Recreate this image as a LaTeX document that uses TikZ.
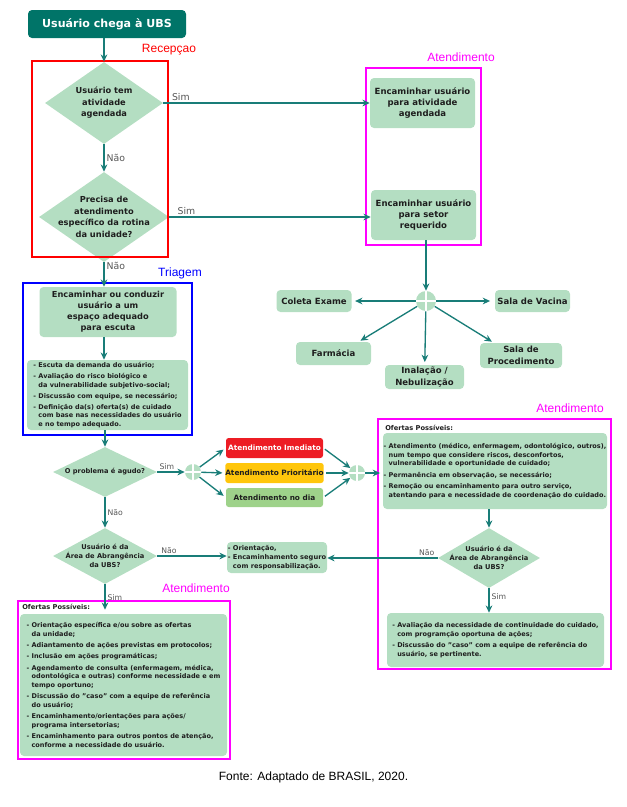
\documentclass[tikz,border=0pt]{standalone}
\usepackage{fontspec}
\setmainfont{DejaVu Sans}
\newfontfamily\arialfont{Liberation Sans}
\usetikzlibrary{shapes.geometric}
\usetikzlibrary{arrows.meta}
\def\px{0.75pt}
\def\bulind{\hphantom{- }}
\definecolor{titleteal}{RGB}{0,116,104}
\definecolor{flowteal}{RGB}{25,125,120}
\definecolor{boxgreen}{RGB}{180,222,194}
\definecolor{textdark}{RGB}{30,30,30}
\definecolor{labelgray}{RGB}{85,85,85}
\definecolor{urgentred}{RGB}{237,28,36}
\definecolor{priorityyellow}{RGB}{255,198,12}
\definecolor{daygreen}{RGB}{158,210,138}
\definecolor{zonered}{RGB}{255,0,0}
\definecolor{zonepink}{RGB}{255,0,255}
\definecolor{zoneblue}{RGB}{0,0,255}
\tikzset{
  boxsize/.style 2 args={minimum width=#1*\px, minimum height=#2*\px},
  startbox/.style={fill=titleteal, rounded corners=3pt, text=white, inner sep=0pt,
    font=\fontsize{8.3}{10}\selectfont\bfseries},
  flow/.style={fill=boxgreen, rounded corners=3pt, inner sep=0pt, align=center,
    text=textdark, font=\fontsize{6.4}{8.6}\selectfont\bfseries},
  notes/.style={flow, align=left, font=\fontsize{4.9}{6.5}\selectfont\bfseries},
  level/.style={rounded corners=2pt, inner sep=0pt, text=textdark, boxsize={97}{20},
    font=\fontsize{5.5}{7}\selectfont\bfseries},
  decision/.style={diamond, fill=boxgreen, inner sep=0pt},
  dtext/.style={align=center, text=textdark, inner sep=0pt,
    font=\fontsize{6.2}{8.6}\selectfont\bfseries},
  dsmall/.style={dtext, font=\fontsize{5}{6.8}\selectfont\bfseries},
  hdr/.style={text=textdark, inner sep=0pt, font=\fontsize{5}{6}\selectfont\bfseries},
  junction/.style={circle, fill=boxgreen, inner sep=0pt,
    path picture={\draw[white, line width=1.1pt]
      (path picture bounding box.north) -- (path picture bounding box.south)
      (path picture bounding box.west) -- (path picture bounding box.east);}},
  link/.style={draw=flowteal, line width=1pt, -{Stealth[length=5.5pt,width=5pt]}},
  zone/.style={line width=1.9pt},
  zonelabel/.style={inner sep=0pt, font=\arialfont\fontsize{9}{10}\selectfont},
  yesno/.style={text=labelgray, inner sep=1.5pt, font=\fontsize{7}{8}\selectfont},
  yesnosmall/.style={yesno, font=\fontsize{5.8}{7}\selectfont}
}

\begin{document}
\begin{tikzpicture}[x=0.75pt, y=-0.75pt]
\useasboundingbox (0,0) rectangle (627,807);

% recepcao
\node[startbox, boxsize={158}{28}] (start) at (107,24) {Usuário chega à UBS};
\node[decision, boxsize={118}{82}] (ask1) at (104,103) {};
\node[dtext] (ask1t) at (ask1) {Usuário tem\\atividade\\agendada};
\node[decision, boxsize={130}{90}] (ask2) at (104,217) {};
\node[dtext] (ask2t) at (ask2) {Precisa de\\atendimento\\específico da rotina\\da unidade?};
\draw[zone, zonered, line width=1.6pt] (32,61) rectangle (168,257);
\node[zonelabel, text=zonered] (recep) at (169,50) {Recepçao};
\draw[link] (ask1.north |- start.south) -- (ask1.north);
\draw[link] (ask1.south) -- node[yesno, right] {Não} (ask2.north);

% atendimento (setores)
\node[flow, boxsize={105}{50}] (toagenda) at (422.5,103) {Encaminhar usuário\\para atividade\\agendada};
\node[flow, boxsize={105}{50}] (tosector) at (423.5,215) {Encaminhar usuário\\para setor\\requerido};
\draw[zone, zonepink] (366,68) rectangle (481,245);
\node[zonelabel, text=zonepink] (att1) at (461,57) {Atendimento};
\draw[link] (ask1.east) -- node[yesno, above, pos=0.085] {Sim} (ask1.east -| toagenda.west);
\draw[link] (ask2.east) -- node[yesno, above, pos=0.085] {Sim} (ask2.east -| tosector.west);

\node[junction, minimum size=20*\px] (hub) at (426,301) {};
\node[flow, boxsize={75}{22}] (exam) at (314,301) {Coleta Exame};
\node[flow, boxsize={75}{22}] (vaccine) at (532.5,301) {Sala de Vacina};
\node[flow, boxsize={75}{23}] (pharmacy) at (333.5,353.5) {Farmácia};
\node[flow, boxsize={79}{24}] (inhale) at (424.5,377) {Inalação /\\Nebulização};
\node[flow, boxsize={82}{25}] (procedure) at (521,355.5) {Sala de\\Procedimento};
\draw[link] (hub.north |- tosector.south) -- (hub.north);
\draw[link, shorten >=2.5pt] (hub) -- (exam);
\draw[link, shorten >=3.5pt] (hub) -- (vaccine);
\draw[link, shorten >=1.5pt] (hub) -- (pharmacy.25);
\draw[link, shorten >=2pt] (hub) -- (inhale);
\draw[link, shorten >=1.5pt] (hub) -- (procedure.155);

% triagem
\node[flow, boxsize={137}{50}, font=\fontsize{6.2}{8.3}\selectfont\bfseries] (listen) at (108,312)
  {Encaminhar ou conduzir\\usuário a um\\espaço adequado\\para escuta};
\node[notes, boxsize={161}{70}] (screen) at (107.5,395)
  {- Escuta da demanda do usuário;\\[1.8pt]
   - Avaliação do risco biológico e\\
   \bulind da vulnerabilidade subjetivo-social;\\[1.8pt]
   - Discussão com equipe, se necessário;\\[1.8pt]
   - Definição da(s) oferta(s) de cuidado\\
   \bulind com base nas necessidades do usuário\\
   \bulind e no tempo adequado.};
\draw[zone, zoneblue] (23,283) rectangle (192,435);
\node[zonelabel, text=zoneblue] (triage) at (180,273) {Triagem};
\draw[link] (ask2.south) -- node[yesno, right, pos=0.15] {Não} (ask2.south |- listen.north);
\draw[link] (ask2.south |- listen.south) -- (ask2.south |- screen.north);

% classificacao
\node[decision, boxsize={104}{50}] (acute) at (105,472) {};
\node[dsmall] (acutet) at (acute) {O problema é agudo?};
\draw[link] (acute.north |- screen.south) -- (acute.north);
\node[junction, minimum size=16*\px] (split) at (193,472) {};
\node[level, fill=urgentred, text=white] (urgent) at (274.5,448) {Atendimento Imediato};
\node[level, fill=priorityyellow] (priority) at (274.5,473) {Atendimento Prioritário};
\node[level, fill=daygreen, boxsize={97}{19}] (sameday) at (274.5,497.5) {Atendimento no dia};
\node[junction, minimum size=16*\px] (merge) at (357,473) {};
\draw[link] (acute.east) -- node[yesnosmall, above, pos=0.35] {Sim} (split.west);
\draw[link, shorten >=2pt] (split) -- (urgent.west);
\draw[link, shorten >=2pt] (split) -- (priority.west);
\draw[link, shorten >=2pt] (split) -- (sameday.west);
\draw[link, shorten <=1.5pt] (urgent.east) -- (merge);
\draw[link, shorten <=1.5pt] (priority.east) -- (merge);
\draw[link, shorten <=1.5pt] (sameday.east) -- (merge);

% abrangencia
\node[decision, boxsize={104}{56}] (area1) at (105,556) {};
\node[dsmall] (area1t) at (area1) {Usuário é da\\Área de Abrangência\\da UBS?};
\draw[link] (acute.south) -- node[yesnosmall, right] {Não} (area1.north);
\node[notes, boxsize={100}{31}, font=\fontsize{5}{6.8}\selectfont\bfseries] (guide) at (277,557.5)
  {- Orientação,\\- Encaminhamento seguro\\\bulind com responsabilização.};
\draw[link] (area1.east) -- node[yesnosmall, above, pos=0.17] {Não} (area1.east -| guide.west);

% atendimento (agudo)
\node[hdr, anchor=west] (offer1) at (385,428) {Ofertas Possíveis:};
\node[notes, boxsize={224}{76}] (care1) at (495,471)
  {- Atendimento (médico, enfermagem, odontológico, outros),\\
   \bulind num tempo que considere riscos, desconfortos,\\
   \bulind vulnerabilidade e oportunidade de cuidado;\\[2pt]
   - Permanência em observação, se necessário;\\[2pt]
   - Remoção ou encaminhamento para outro serviço,\\
   \bulind atentando para e necessidade de coordenação do cuidado.};
\node[decision, boxsize={102}{60}] (area2) at (489,558) {};
\node[dsmall] (area2t) at (area2) {Usuário é da\\Área de Abrangência\\da UBS?};
\node[notes, boxsize={217}{54}] (care2) at (495.5,640)
  {- Avaliação da necessidade de continuidade do cuidado,\\
   \bulind com programção oportuna de ações;\\[2pt]
   - Discussão do "caso" com a equipe de referência do\\
   \bulind usuário, se pertinente.};
\draw[zone, zonepink] (378,419) rectangle (611,669);
\node[zonelabel, text=zonepink] (att2) at (570,408) {Atendimento};
\draw[link, shorten >=2pt] (merge.east) -- (merge.east -| care1.west);
\draw[link] (area2.north |- care1.south) -- (area2.north);
\draw[link] (area2.west) -- node[yesnosmall, above, pos=0.1] {Não} (area2.west -| guide.east);
\draw[link] (area2.south) -- node[yesnosmall, right, pos=0.35] {Sim} (area2.south |- care2.north);

% atendimento (nao agudo)
\node[hdr, anchor=west] (offer2) at (22,607) {Ofertas Possíveis:};
\node[notes, boxsize={207}{142}] (care3) at (123.5,685)
  {- Orientação específica e/ou sobre as ofertas\\
   \bulind da unidade;\\[2pt]
   - Adiantamento de ações previstas em protocolos;\\[2pt]
   - Inclusão em ações programáticas;\\[2pt]
   - Agendamento de consulta (enfermagem, médica,\\
   \bulind odontológica e outras) conforme necessidade e em\\
   \bulind tempo oportuno;\\[2pt]
   - Discussão do "caso" com a equipe de referência\\
   \bulind do usuário;\\[2pt]
   - Encaminhamento/orientações para ações/\\
   \bulind programa intersetorias;\\[2pt]
   - Encaminhamento para outros pontos de atenção,\\
   \bulind conforme a necessidade do usuário.};
\draw[zone, zonepink] (18,601) rectangle (230,759);
\node[zonelabel, text=zonepink] (att3) at (196,588) {Atendimento};
\draw[link, shorten >=3pt] (area1.south) -- node[yesnosmall, right, pos=0.45] {Sim} (area1.south |- care3.north);

\node[zonelabel] (source) at (313.5,777) {Fonte: Adaptado de BRASIL, 2020.};
\end{tikzpicture}
\end{document}
